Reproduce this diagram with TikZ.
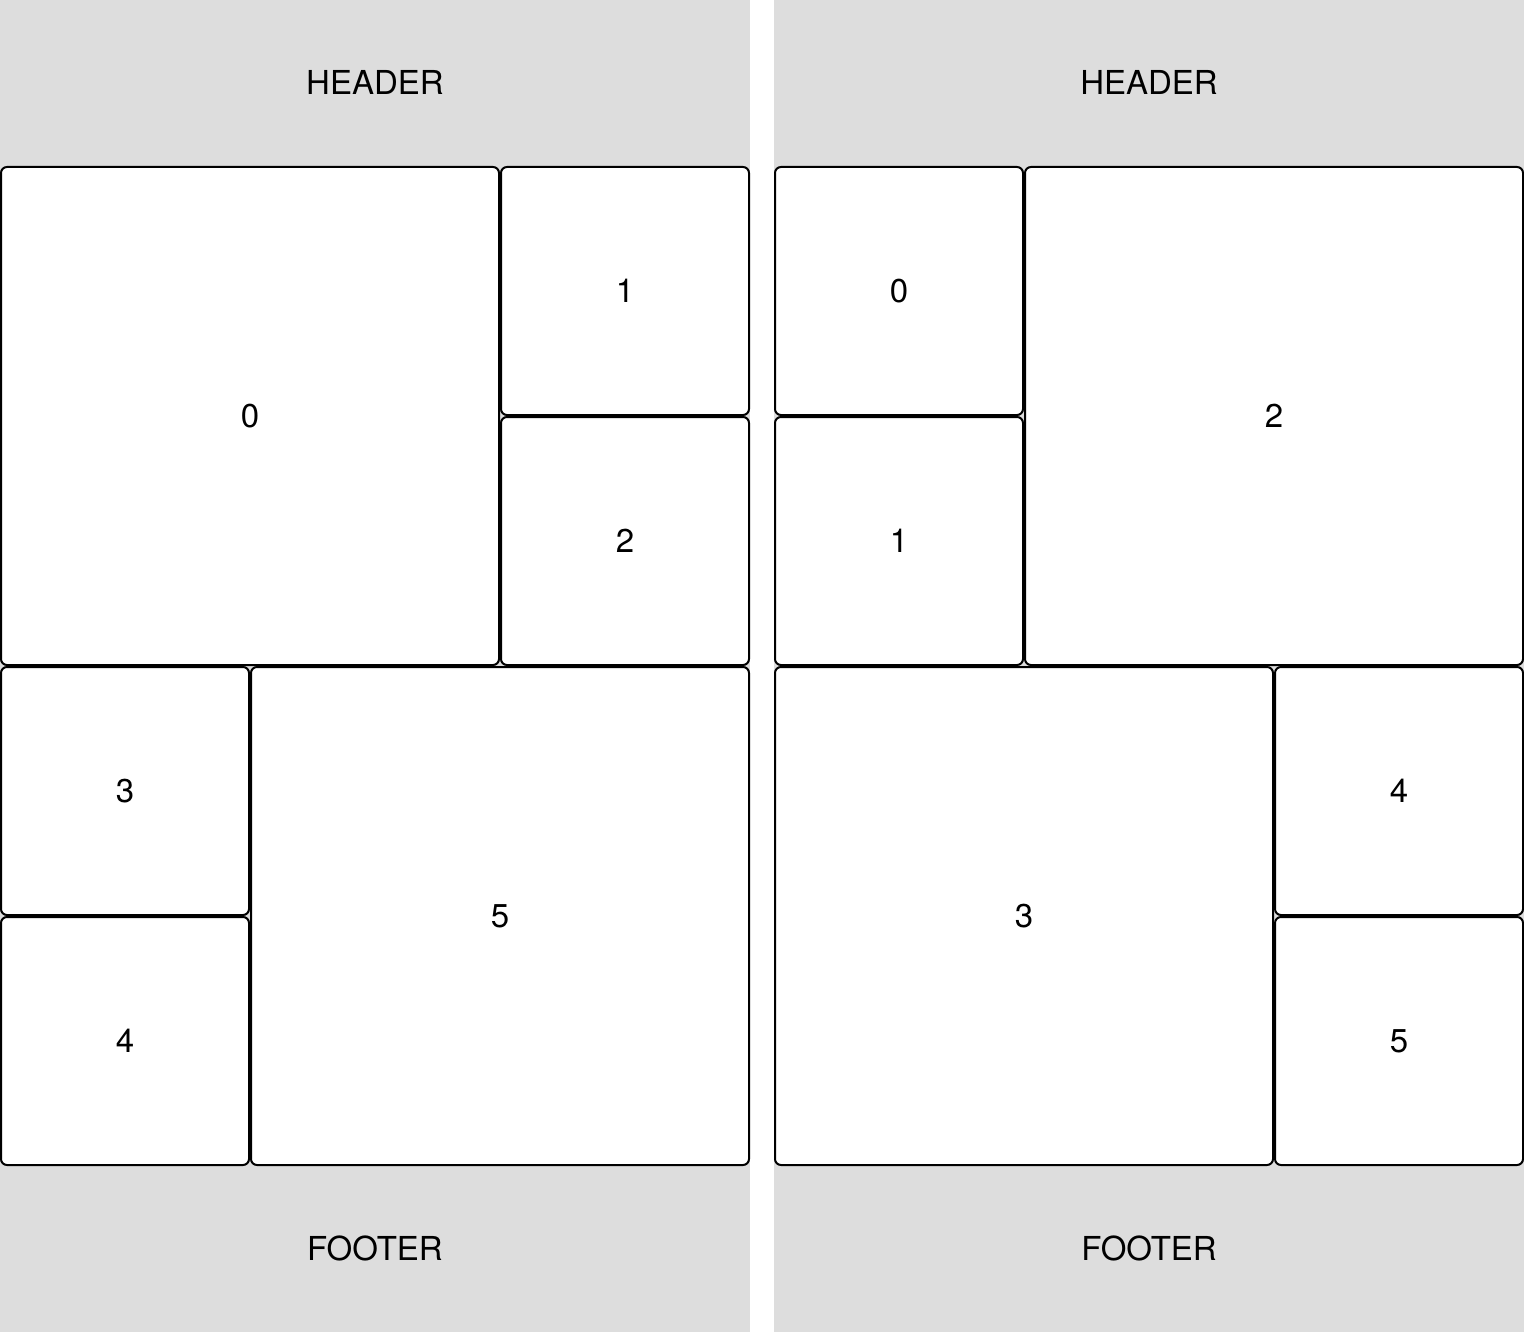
\documentclass[tikz,border=0pt]{standalone}
\usepackage{fontspec}
\setmainfont{TeX Gyre Heros}
\usepackage{tikz}
\usetikzlibrary{positioning}
\definecolor{panelgray}{HTML}{DDDDDD}
\tikzset{
  cell/.style={draw=black, line width=1pt, rounded corners=3pt, fill=white, inner sep=0pt, font=\fontsize{16.5}{19}\selectfont},
  smallcell/.style={cell, minimum width=124pt, minimum height=124pt},
  bigcell/.style={cell, minimum width=249pt, minimum height=249pt},
  band/.style={font=\fontsize{16.5}{19}\selectfont}
}

\begin{document}
\begin{tikzpicture}[x=0.5pt,y=-0.5pt]
\fill[white] (0,0) rectangle (1524,1332);
\useasboundingbox (0,0) rectangle (1524,1332);
% panels
\fill[panelgray] (0,0) rectangle (750,1332);
\fill[panelgray] (774,0) rectangle (1524,1332);

% left layout
\node[band] (lhead) at (375,82) {HEADER};
\node[bigcell] (l0) at (250,416) {0};
\node[smallcell] (l1) at (625,291) {1};
\node[smallcell] (l2) at (625,541) {2};
\node[smallcell] (l3) at (125,791) {3};
\node[smallcell] (l4) at (125,1041) {4};
\node[bigcell] (l5) at (500,916) {5};
\node[band] (lfoot) at (375,1248) {FOOTER};

% right layout
\node[band] (rhead) at (1149,82) {HEADER};
\node[smallcell] (r0) at (899,291) {0};
\node[smallcell] (r1) at (899,541) {1};
\node[bigcell] (r2) at (1274,416) {2};
\node[bigcell] (r3) at (1024,916) {3};
\node[smallcell] (r4) at (1399,791) {4};
\node[smallcell] (r5) at (1399,1041) {5};
\node[band] (rfoot) at (1149,1248) {FOOTER};
\end{tikzpicture}
\end{document}
